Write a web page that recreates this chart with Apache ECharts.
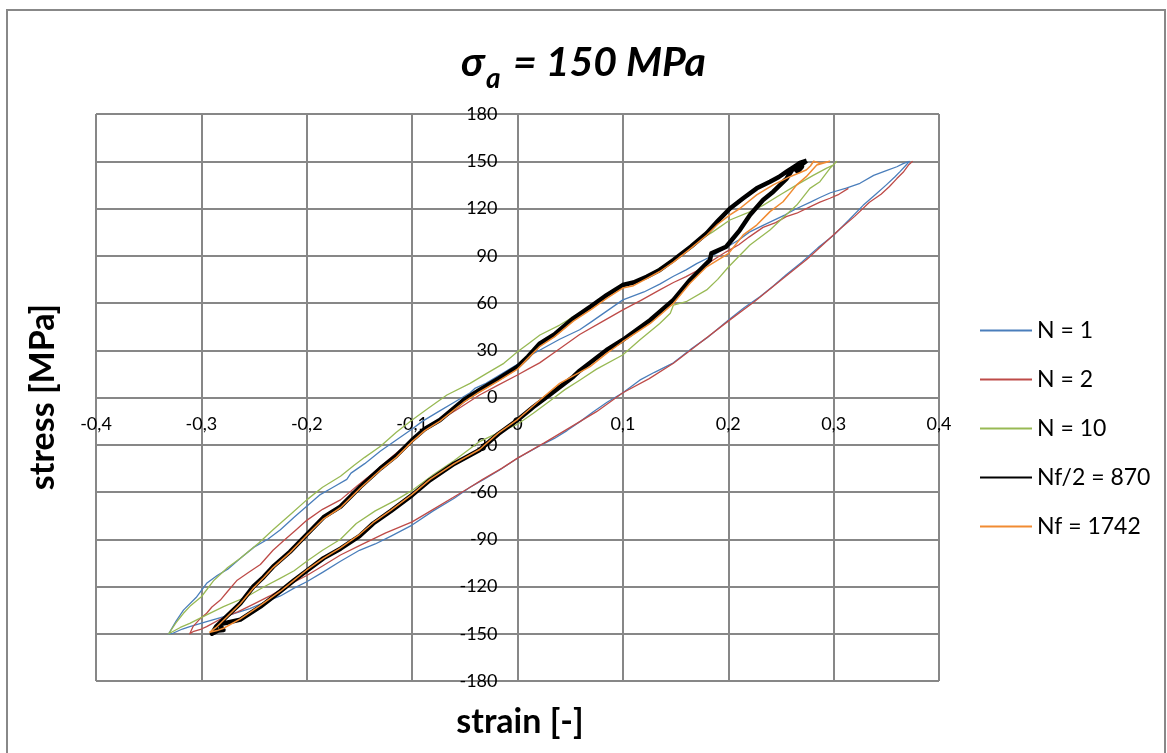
<!DOCTYPE html>
<html>
<head>
<meta charset="utf-8">
<title>σa = 150 MPa</title>
<script src="https://cdn.jsdelivr.net/npm/echarts@6/dist/echarts.min.js"></script>
<style>
  html, body { margin: 0; padding: 0; background: #fff; }
  #chart { width: 1167px; height: 753px; }
</style>
</head>
<body>
<div id="chart"></div>
<script>
// Series names (legend order)
const seriesNames = ['N = 1', 'N = 2', 'N = 10', 'Nf/2 = 870', 'Nf = 1742'];

// Axis ranges
const strainTicks = { min: -0.4, max: 0.4, step: 0.1 };
const stressTicks = { min: -180, max: 180, step: 30 };

// Hysteresis loops: [strain, stress MPa]
// N = 1: unloading branch from the peak, then reloading back to the peak
const n1 = [
  [0.372,150],[0.366,148.5],[0.360,146.5],[0.350,144],[0.338,141],[0.325,136],[0.312,133],[0.297,130],
  [0.287,127],[0.278,124],[0.265,120],[0.254,116],[0.243,112.5],[0.232,109],[0.220,105],[0.210,100],
  [0.200,96],[0.185,90],[0.170,85],[0.160,81],[0.148,77],[0.135,72],[0.120,67],[0.100,62],[0.085,55],
  [0.070,48],[0.059,43],[0.040,37],[0.021,30],[0.010,26],[0.000,21],[-0.015,15],[-0.030,9],[-0.040,6],
  [-0.045,3],[-0.060,-3],[-0.075,-9],[-0.090,-15],[-0.100,-20],[-0.115,-27],[-0.130,-34],[-0.145,-42],
  [-0.158,-48],[-0.162,-52],[-0.175,-57],[-0.188,-62],[-0.200,-69],[-0.212,-76],[-0.225,-84],[-0.237,-90],
  [-0.250,-95],[-0.263,-102],[-0.275,-109],[-0.285,-113],[-0.295,-118],[-0.305,-127],[-0.317,-135],
  [-0.324,-142],[-0.331,-150],
  [-0.327,-149.7],[-0.318,-147],[-0.311,-145.5],[-0.295,-142.3],[-0.276,-138.7],[-0.254,-134],[-0.240,-130],
  [-0.225,-126],[-0.212,-121],[-0.200,-117],[-0.185,-111],[-0.168,-104],[-0.150,-97],[-0.135,-93],
  [-0.120,-88],[-0.100,-81],[-0.080,-72],[-0.060,-64],[-0.045,-57],[-0.032,-52],[-0.017,-46],[0.000,-38.6],
  [0.020,-31],[0.035,-26],[0.047,-21],[0.060,-15],[0.072,-9],[0.085,-3],[0.100,3],[0.116,11],[0.130,16],
  [0.148,22],[0.165,31],[0.180,38],[0.200,49],[0.215,57],[0.230,64],[0.243,71],[0.255,78],[0.270,86],
  [0.285,95],[0.300,103],[0.315,113],[0.328,122],[0.340,129],[0.350,135],[0.358,140],[0.363,143.4],
  [0.368,147],[0.372,150]
];

// N = 2: starts part-way down the unloading branch
const n2 = [
  [0.314,132.8],[0.305,129],[0.2965,126.5],[0.287,124],[0.2775,121],[0.265,117],[0.255,114.8],[0.245,111],
  [0.233,108],[0.220,102],[0.210,97],[0.198,92.5],[0.185,87],[0.172,81],[0.160,76.7],[0.148,73],
  [0.135,68.3],[0.118,62],[0.100,55.6],[0.080,48],[0.059,40],[0.040,31],[0.021,22],[0.010,18],[0.000,14.3],
  [-0.018,8],[-0.036,1.6],[-0.058,-7.9],[-0.080,-17],[-0.100,-27],[-0.118,-37],[-0.137,-48],[-0.152,-56],
  [-0.168,-65],[-0.185,-71],[-0.200,-78],[-0.210,-84],[-0.222,-91],[-0.232,-97],[-0.244,-106],[-0.255,-111],
  [-0.266,-116],[-0.275,-123],[-0.282,-128.6],[-0.290,-133],[-0.295,-137],[-0.302,-141],[-0.308,-145.5],
  [-0.311,-150],
  [-0.308,-148.7],[-0.300,-147],[-0.295,-145.5],[-0.280,-140],[-0.265,-136],[-0.250,-131],[-0.235,-126],
  [-0.220,-120],[-0.200,-113],[-0.185,-107],[-0.168,-100],[-0.150,-94],[-0.125,-86],[-0.100,-79],
  [-0.080,-71],[-0.060,-63],[-0.045,-57],[-0.033,-52],[-0.015,-45],[0.000,-38.5],[0.025,-29],[0.050,-19],
  [0.075,-9],[0.100,3],[0.125,12],[0.148,21.7],[0.170,33],[0.200,48.5],[0.225,61],[0.249,74],[0.275,88],
  [0.306,107],[0.320,115],[0.334,124],[0.345,129],[0.353,134],[0.360,139],[0.366,143],[0.371,147.6],
  [0.375,150]
];

// N = 10
const n10 = [
  [0.303,150],[0.2996,147.6],[0.293,145.5],[0.2806,141],[0.265,135],[0.249,128.6],[0.233,122],[0.2175,117],
  [0.2016,112.7],[0.185,105],[0.170,99],[0.150,88],[0.125,78],[0.100,70],[0.0846,64],[0.070,57],
  [0.053,51.3],[0.040,46],[0.0213,39.7],[0.010,34],[0.000,29],[-0.013,21.7],[-0.030,15],[-0.045,9],
  [-0.067,1.6],[-0.085,-7],[-0.100,-14.3],[-0.115,-22],[-0.130,-31],[-0.145,-38],[-0.155,-43],[-0.168,-50],
  [-0.185,-57],[-0.200,-65],[-0.215,-74],[-0.232,-84],[-0.245,-92],[-0.263,-102],[-0.275,-108],
  [-0.288,-116],[-0.300,-126.5],[-0.310,-132],[-0.317,-137],[-0.324,-143],[-0.331,-150],
  [-0.320,-146],[-0.311,-143.4],[-0.295,-138],[-0.279,-132.8],[-0.257,-126.5],[-0.240,-120],[-0.2253,-114.8],
  [-0.212,-110],[-0.200,-104],[-0.185,-97],[-0.168,-90],[-0.153,-80],[-0.135,-72],[-0.115,-65],
  [-0.100,-59],[-0.080,-49],[-0.060,-40],[-0.036,-28],[-0.017,-22],[0.000,-17],[0.015,-10],[0.031,-2],
  [0.045,5],[0.059,11],[0.075,18],[0.0998,27],[0.116,36.5],[0.135,47],[0.145,53.5],[0.148,58.7],
  [0.160,60.8],[0.1795,68.3],[0.190,75],[0.2004,83],[0.2206,96.8],[0.2396,106.3],[0.255,116],
  [0.265,122.2],[0.2775,132.8],[0.287,137],[0.2965,145.5],[0.303,150]
];

// Nf/2 = 870
const nHalf = [
  [0.2744,150.3],[0.268,149],[0.262,146],[0.266,143.5],[0.270,146.5],[0.265,147.6],[0.2554,143.4],
  [0.248,140],[0.2396,137],[0.227,132.8],[0.2142,126.5],[0.2016,120],[0.190,112],[0.1795,104.3],
  [0.165,96],[0.148,87.3],[0.135,81],[0.1226,76.7],[0.110,73],[0.0998,71.4],[0.0846,65],[0.070,58],
  [0.053,50.3],[0.035,40],[0.0213,34.4],[0.010,26],[0.000,19.6],[-0.018,12],[-0.036,4.8],[-0.051,-1.6],
  [-0.0736,-14.3],[-0.088,-20],[-0.100,-27],[-0.115,-37],[-0.130,-45],[-0.149,-56.6],[-0.168,-69.3],
  [-0.184,-76],[-0.200,-87],[-0.216,-98],[-0.232,-107.4],[-0.241,-114],[-0.2506,-120],[-0.263,-130.7],
  [-0.276,-139],[-0.286,-145.5],[-0.290,-150],
  [-0.284,-148],[-0.279,-147.6],[-0.283,-144],[-0.276,-143],[-0.263,-141],[-0.244,-132.8],[-0.225,-123],
  [-0.212,-116],[-0.200,-110],[-0.184,-102],[-0.168,-96],[-0.150,-88],[-0.137,-80],[-0.120,-72],
  [-0.100,-62],[-0.083,-52.4],[-0.060,-42],[-0.036,-33.3],[-0.018,-23],[0.000,-14.3],[0.015,-6],
  [0.031,2],[0.053,13.2],[0.059,17],[0.0846,30.2],[0.0998,36.5],[0.126,49.2],[0.148,62],[0.1637,74.6],
  [0.1826,87.3],[0.184,91.5],[0.198,95.7],[0.211,106.3],[0.2206,115.9],[0.233,125.4],[0.2427,130.7],
  [0.2554,139],[0.2617,145.5],[0.268,147],[0.2744,150.3]
];

// Nf = 1742
const nFail = [
  [0.2965,150],[0.290,149],[0.287,148.7],[0.281,150],[0.278,147],[0.274,144.4],[0.2585,140.2],[0.2427,135],
  [0.227,128.6],[0.211,120],[0.2016,116],[0.190,110],[0.1795,103],[0.165,95],[0.148,86],[0.135,80],
  [0.1226,75.5],[0.110,71],[0.0998,69.5],[0.0846,63],[0.070,56],[0.053,48.5],[0.035,38.5],[0.0213,32.5],
  [0.010,25],[0.000,18],[-0.018,10.5],[-0.036,3.5],[-0.051,-3],[-0.0736,-15],[-0.088,-21],[-0.100,-28],
  [-0.115,-38],[-0.130,-46],[-0.149,-57.5],[-0.168,-70],[-0.184,-77],[-0.200,-87.5],[-0.216,-98.5],
  [-0.232,-108],[-0.241,-114.5],[-0.2506,-121],[-0.263,-131],[-0.276,-139.5],[-0.286,-146],[-0.292,-149],
  [-0.285,-148],[-0.279,-146.5],[-0.263,-140.5],[-0.244,-132],[-0.225,-123],[-0.212,-116],[-0.200,-109.5],
  [-0.184,-102],[-0.168,-95.5],[-0.150,-87],[-0.137,-79.5],[-0.120,-71.5],[-0.100,-61.5],[-0.083,-52],
  [-0.060,-42],[-0.036,-33],[-0.018,-22.5],[0.000,-14],[0.0213,-1.6],[0.040,9],[0.0688,19.6],[0.0846,28],
  [0.0998,35.4],[0.126,47],[0.148,59.8],[0.1637,72.5],[0.1795,83],[0.2004,91.5],[0.2142,103.2],
  [0.227,109.5],[0.2396,118],[0.252,124.3],[0.265,135],[0.274,140.2],[0.284,147.6],[0.2965,150]
];

const loops = [n1, n2, n10, nHalf, nFail];
const colors = ['#4A7EBB', '#BE4B48', '#98B954', '#000000', '#F18B32'];
const widths = [1.3, 1.3, 1.3, 4.5, 1.5];

const FONT = 'Lato, "Open Sans", sans-serif';
const gridColor = '#878787';

// Plot rectangle; both axes cross at the origin in the middle of it
const plot = { left: 96, top: 114, width: 843, height: 567 };
const W = 1167, H = 753;

const chart = echarts.init(document.getElementById('chart'), null, { renderer: 'canvas' });

const formatStrain = v => {
  const r = Math.round(v * 10) / 10;
  if (r === 0) return '0';
  return r.toFixed(1).replace('.', ',');
};

chart.setOption({
  backgroundColor: '#ffffff',
  animation: false,
  grid: {
    left: plot.left,
    top: plot.top,
    right: W - plot.left - plot.width,
    bottom: H - plot.top - plot.height,
    containLabel: false
  },
  legend: {
    orient: 'vertical',
    left: 979,
    top: 319,
    padding: 0,
    itemWidth: 52,
    itemHeight: 18,
    itemGap: 26,
    itemStyle: { color: 'transparent', borderColor: 'transparent', borderWidth: 0, opacity: 0 },
    textStyle: { fontFamily: FONT, fontSize: 23, color: '#000', lineHeight: 18 },
    data: seriesNames
  },
  xAxis: {
    type: 'value',
    min: strainTicks.min,
    max: strainTicks.max,
    interval: strainTicks.step,
    position: 'bottom',
    offset: -plot.height / 2,
    axisLine: { onZero: false, lineStyle: { color: gridColor, width: 2 } },
    axisTick: { show: false },
    axisLabel: { margin: 18, fontFamily: FONT, fontSize: 18, color: '#000', formatter: formatStrain },
    splitLine: { show: true, lineStyle: { color: gridColor, width: 2 } }
  },
  yAxis: {
    type: 'value',
    min: stressTicks.min,
    max: stressTicks.max,
    interval: stressTicks.step,
    position: 'left',
    offset: -plot.width / 2,
    axisLine: { onZero: false, lineStyle: { color: gridColor, width: 2 } },
    axisTick: { show: false },
    axisLabel: { margin: 20, fontFamily: FONT, fontSize: 18, color: '#000' },
    splitLine: { show: true, lineStyle: { color: gridColor, width: 2 } }
  },
  series: loops.map((d, i) => ({
    name: seriesNames[i],
    type: 'line',
    data: d,
    symbol: 'none',
    showSymbol: false,
    smooth: false,
    clip: true,
    color: colors[i],
    lineStyle: { color: colors[i], width: widths[i], join: 'round' },
    z: 2 + i
  })),
  graphic: [
    {
      type: 'rect',
      silent: true,
      shape: { x: 7, y: 10, width: 1158, height: 760 },
      style: { fill: 'none', stroke: '#888888', lineWidth: 2 }
    },
    {
      type: 'text', silent: true, x: 461, y: 83,
      style: { text: 'σ', font: 'italic bold 41px ' + FONT, fill: '#000', verticalAlign: 'bottom' }
    },
    {
      type: 'text', silent: true, x: 486, y: 93,
      style: { text: 'a', font: 'italic bold 28px ' + FONT, fill: '#000', verticalAlign: 'bottom' }
    },
    {
      type: 'text', silent: true, x: 513, y: 83,
      style: { text: '= 150 MPa', font: 'italic bold 41px ' + FONT, fill: '#000', verticalAlign: 'bottom' }
    },
    {
      type: 'text', silent: true, x: 520, y: 722,
      style: { text: 'strain [-]', font: 'bold 34px ' + FONT, fill: '#000', align: 'center', verticalAlign: 'middle' }
    },
    {
      type: 'text', silent: true, x: 43, y: 397, rotation: Math.PI / 2,
      style: { text: 'stress [MPa]', font: 'bold 34px ' + FONT, fill: '#000', align: 'center', verticalAlign: 'middle' }
    }
  ]
});
</script>
</body>
</html>
